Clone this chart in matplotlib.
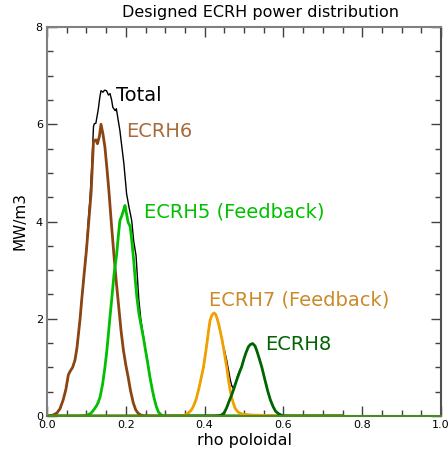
import numpy as np
from matplotlib import pyplot as plt
from matplotlib.ticker import MultipleLocator

# ECRH6 (brown)
rho6 = [0.0, 0.005, 0.015, 0.025, 0.033, 0.041, 0.048, 0.054, 0.058, 0.065, 0.071, 0.076, 0.08,
        0.084, 0.088, 0.094, 0.1, 0.106, 0.112, 0.118, 0.124, 0.128, 0.133, 0.137, 0.142,
        0.147, 0.152, 0.157, 0.163, 0.17, 0.176, 0.182, 0.188, 0.194, 0.2, 0.206, 0.212,
        0.219, 0.225, 0.231, 0.238, 0.245, 0.255, 0.75]
p6 = [0.0, 0.0, 0.02, 0.06, 0.15, 0.33, 0.55, 0.84, 0.91, 1.0, 1.15, 1.4, 1.7,
      2.0, 2.38, 2.9, 3.4, 4.0, 4.6, 5.65, 5.68, 5.6, 5.75, 6.0, 5.8,
      5.53, 5.1, 4.64, 4.0, 3.3, 2.75, 2.25, 1.75, 1.35, 1.05, 0.8, 0.52,
      0.27, 0.13, 0.06, 0.02, 0.005, 0.0, 0.0]

# ECRH5 (Feedback, green)
rho5 = [0.0, 0.08, 0.095, 0.105, 0.112, 0.118, 0.125, 0.13, 0.135, 0.141, 0.147, 0.152, 0.156,
        0.16, 0.164, 0.17, 0.177, 0.181, 0.185, 0.19, 0.195, 0.198, 0.202, 0.206, 0.211,
        0.215, 0.22, 0.224, 0.228, 0.233, 0.238, 0.245, 0.25, 0.255, 0.261, 0.267, 0.272,
        0.278, 0.283, 0.29, 0.3, 0.75]
p5 = [0.0, 0.0, 0.005, 0.03, 0.06, 0.12, 0.2, 0.28, 0.4, 0.65, 1.0, 1.35, 1.7,
      2.05, 2.38, 2.9, 3.34, 3.7, 4.02, 4.12, 4.25, 4.33, 4.15, 3.98, 3.9,
      3.62, 3.2, 2.8, 2.45, 2.12, 1.9, 1.6, 1.35, 1.12, 0.81, 0.55, 0.36,
      0.18, 0.08, 0.02, 0.0, 0.0]

# ECRH7 (Feedback, orange)
rho7 = [0.0, 0.32, 0.34, 0.35, 0.36, 0.366, 0.371, 0.378, 0.385, 0.391, 0.397, 0.402, 0.406,
        0.41, 0.414, 0.419, 0.424, 0.428, 0.432, 0.436, 0.439, 0.444, 0.448, 0.452, 0.456,
        0.461, 0.465, 0.469, 0.473, 0.478, 0.485, 0.495, 0.52, 0.56, 0.6, 0.75]
p7 = [0.0, 0.0, 0.005, 0.02, 0.07, 0.12, 0.19, 0.33, 0.55, 0.77, 1.0, 1.27, 1.5,
      1.75, 1.97, 2.08, 2.12, 2.09, 2.0, 1.88, 1.77, 1.58, 1.4, 1.2, 1.01,
      0.72, 0.52, 0.38, 0.26, 0.15, 0.08, 0.04, 0.02, 0.01, 0.0, 0.0]

# ECRH8 (dark green)
rho8 = [0.0, 0.42, 0.435, 0.443, 0.45, 0.456, 0.462, 0.468, 0.473, 0.479, 0.485, 0.49, 0.494,
        0.5, 0.505, 0.511, 0.516, 0.522, 0.528, 0.533, 0.538, 0.545, 0.552, 0.56, 0.567,
        0.574, 0.58, 0.587, 0.595, 0.605, 0.75]
p8 = [0.0, 0.0, 0.005, 0.02, 0.07, 0.17, 0.3, 0.42, 0.53, 0.68, 0.82, 0.93, 1.01,
      1.18, 1.3, 1.42, 1.47, 1.49, 1.44, 1.33, 1.2, 1.01, 0.78, 0.52, 0.33,
      0.19, 0.1, 0.05, 0.015, 0.0, 0.0]

# Total (black)
rhoT = [0.0, 0.005, 0.015, 0.025, 0.033, 0.041, 0.048, 0.054, 0.058, 0.065, 0.071, 0.076, 0.08,
        0.084, 0.088, 0.094, 0.1, 0.105, 0.109, 0.114, 0.118, 0.12, 0.124, 0.13, 0.134,
        0.137, 0.142, 0.146, 0.151, 0.156, 0.16, 0.164, 0.167, 0.173, 0.176, 0.185, 0.195,
        0.202, 0.208, 0.215, 0.22, 0.226, 0.233, 0.238, 0.245, 0.25, 0.255, 0.261, 0.267,
        0.272, 0.278, 0.283, 0.29, 0.3, 0.34, 0.35, 0.36, 0.366, 0.371, 0.378, 0.385,
        0.391, 0.397, 0.402, 0.406, 0.41, 0.414, 0.419, 0.424, 0.428, 0.432, 0.436, 0.439,
        0.444, 0.448, 0.452, 0.456, 0.461, 0.465, 0.469, 0.473, 0.478, 0.484, 0.49, 0.494,
        0.5, 0.505, 0.511, 0.516, 0.522, 0.528, 0.533, 0.538, 0.545, 0.552, 0.56, 0.567,
        0.574, 0.58, 0.587, 0.595, 0.605, 0.75]
pT = [0.0, 0.0, 0.02, 0.06, 0.15, 0.33, 0.55, 0.84, 0.91, 1.0, 1.15, 1.4, 1.7,
      2.0, 2.38, 2.9, 3.45, 4.05, 4.45, 5.2, 5.95, 6.01, 6.02, 6.3, 6.55,
      6.69, 6.66, 6.7, 6.69, 6.6, 6.63, 6.5, 6.35, 6.28, 6.32, 5.87, 5.2,
      4.57, 4.3, 4.02, 3.6, 3.3, 2.4, 2.0, 1.62, 1.37, 1.13, 0.82, 0.56,
      0.37, 0.18, 0.08, 0.02, 0.0, 0.005, 0.02, 0.07, 0.12, 0.19, 0.33, 0.55,
      0.77, 1.0, 1.27, 1.5, 1.75, 1.97, 2.08, 2.12, 2.09, 2.0, 1.88, 1.77,
      1.58, 1.42, 1.3, 1.15, 0.93, 0.75, 0.62, 0.57, 0.66, 0.83, 0.95, 1.02,
      1.18, 1.3, 1.42, 1.47, 1.49, 1.44, 1.33, 1.2, 1.01, 0.78, 0.52, 0.33,
      0.19, 0.1, 0.05, 0.015, 0.0, 0.0]

fig = plt.figure(figsize=(4.48, 4.63), dpi=100)
ax = fig.add_axes([47/448, 47/463, 394/448, 389/463])

ax.plot(rhoT, pT, color='black', lw=1.0)
ax.plot(rho6, p6, color='#8b4513', lw=2.0)
ax.plot(rho5, p5, color='#00c000', lw=2.0)
ax.plot(rho7, p7, color='#f0a000', lw=2.0)
ax.plot(rho8, p8, color='#006400', lw=2.0)

ax.text(0.175, 6.59, 'Total', color='black', fontsize=14, va='center')
ax.text(0.2, 5.85, 'ECRH6', color='#a86a3a', fontsize=14, va='center')
ax.text(0.246, 4.19, 'ECRH5 (Feedback)', color='#00c000', fontsize=14, va='center')
ax.text(0.411, 2.38, 'ECRH7 (Feedback)', color='#cc8a2a', fontsize=14, va='center')
ax.text(0.553, 1.48, 'ECRH8', color='#006400', fontsize=14, va='center')

ax.set_xlim(0, 1.0)
ax.set_ylim(0, 8)
ax.xaxis.set_major_locator(MultipleLocator(0.2))
ax.xaxis.set_minor_locator(MultipleLocator(0.05))
ax.yaxis.set_major_locator(MultipleLocator(2))
ax.yaxis.set_minor_locator(MultipleLocator(0.5))
ax.set_xticklabels(['%.1f' % v for v in ax.get_xticks()])
ax.tick_params(which='both', direction='in', top=True, right=True, color='#404040',
               labelsize=8, pad=3)
ax.tick_params(which='major', length=7, width=1)
ax.tick_params(which='minor', length=4, width=1)
for s in ['left', 'top']:
    ax.spines[s].set_color('#808080')
ax.spines['right'].set_color('#505050')
ax.spines['bottom'].set_color('#4a8a20')
for s in ax.spines.values():
    s.set_linewidth(1.5)

ax.set_xlabel('rho poloidal', fontsize=11.5, labelpad=2)
ax.set_ylabel('MW/m3', fontsize=11, labelpad=6)
fig.text(261/448, 1 - 12/463, 'Designed ECRH power distribution', fontsize=11.5,
         ha='center', va='center')

fig.savefig('out.png', dpi=100)
